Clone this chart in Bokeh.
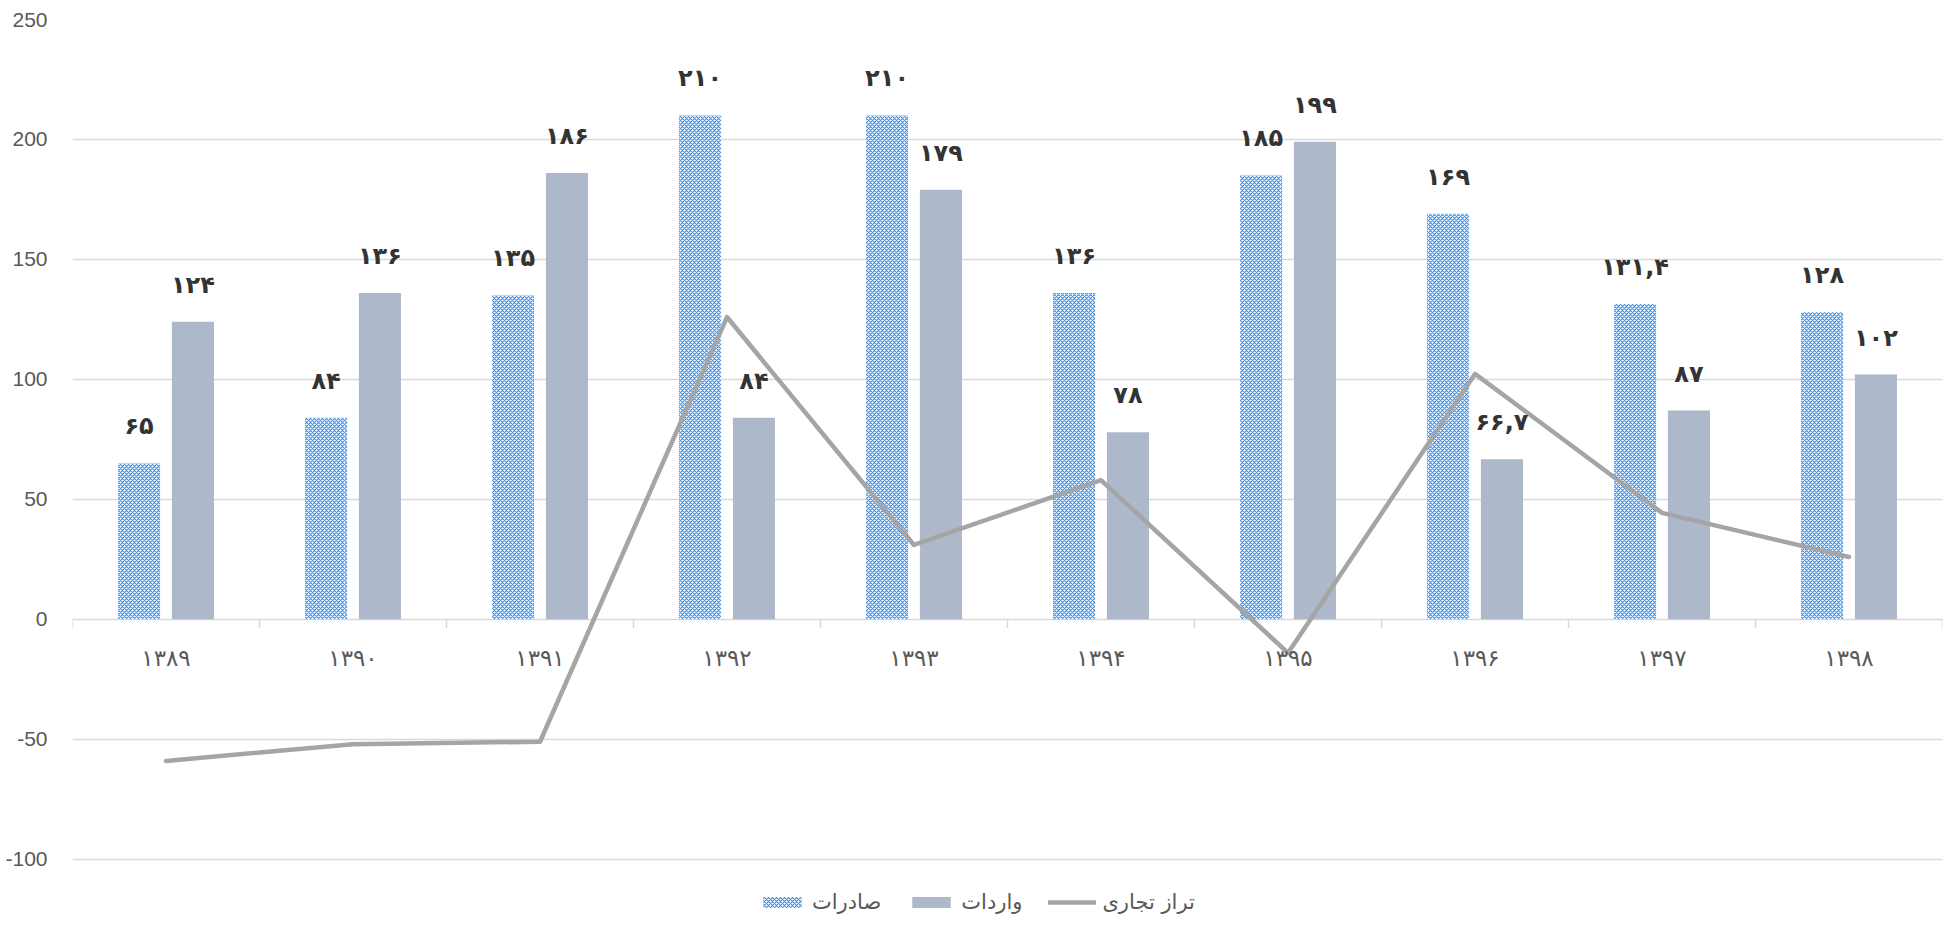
from bokeh.plotting import figure
from bokeh.models import ColumnDataSource, FactorRange, Range1d, FixedTicker, Legend, LegendItem
from bokeh.transform import dodge
from bokeh.core.properties import value
from bokeh.embed import file_html
from bokeh.resources import INLINE

# ---------------- data ----------------
years = ["۱۳۸۹", "۱۳۹۰", "۱۳۹۱", "۱۳۹۲", "۱۳۹۳", "۱۳۹۴", "۱۳۹۵", "۱۳۹۶", "۱۳۹۷", "۱۳۹۸"]
exports = [65, 84, 135, 210, 210, 136, 185, 169, 131.4, 128]
imports = [124, 136, 186, 84, 179, 78, 199, 66.7, 87, 102]
balance = [-59, -52, -51, 126, 31, 58, -14, 102.3, 44.4, 26]
exports_labels = ["۶۵", "۸۴", "۱۳۵", "۲۱۰", "۲۱۰", "۱۳۶", "۱۸۵", "۱۶۹", "۱۳۱,۴", "۱۲۸"]
imports_labels = ["۱۲۴", "۱۳۶", "۱۸۶", "۸۴", "۱۷۹", "۷۸", "۱۹۹", "۶۶,۷", "۸۷", "۱۰۲"]
y_ticks = [-100, -50, 0, 50, 100, 150, 200, 250]
series_names = ["صادرات", "واردات", "تراز تجاری"]

# ---------------- styles ----------------
GRID = "#d9d9d9"
TXT = "#595959"
LBL = "#333333"
FA_FONT = value("DejaVu Sans")
OFF = 0.144
BAR_W = 0.225
Y_LOW = -123   # extra room under the -100 grid line for the legend

src = ColumnDataSource(dict(year=years, exports=exports, imports=imports, balance=balance,
                            el=exports_labels, il=imports_labels))

p = figure(x_range=FactorRange(*years), y_range=Range1d(Y_LOW, y_ticks[-1]),
           width=1944, height=919, output_backend="svg", toolbar_location=None,
           min_border_left=72, min_border_right=2, min_border_top=19, min_border_bottom=5)
p.outline_line_color = None
p.background_fill_color = "white"
p.border_fill_color = "white"

p.xaxis.visible = False
p.xgrid.visible = False
p.ygrid.grid_line_color = GRID
p.ygrid.grid_line_width = 1.5

p.yaxis.ticker = FixedTicker(ticks=y_ticks)
p.yaxis.major_label_overrides = {t: str(t) for t in y_ticks}
p.yaxis.axis_line_color = None
p.yaxis.major_tick_line_color = None
p.yaxis.minor_tick_line_color = None
p.yaxis.major_tick_out = 0
p.yaxis.major_tick_in = 0
p.yaxis.minor_tick_out = 0
p.yaxis.major_label_standoff = 25
p.yaxis.major_label_text_font = "Liberation Sans"
p.yaxis.major_label_text_font_size = "21px"
p.yaxis.major_label_text_color = TXT

# category boundary ticks on the zero axis
bounds = list(range(len(years) + 1))
p.segment(x0=bounds, y0=[0] * len(bounds), x1=bounds, y1=[-3.6] * len(bounds),
          line_color=GRID, line_width=1.5)

r_exp = p.vbar(x=dodge("year", -OFF, range=p.x_range), top="exports", bottom=0, width=BAR_W,
               source=src, fill_color="white", line_color=None,
               hatch_pattern="diagonal_cross", hatch_color="#4a90d9",
               hatch_scale=4, hatch_weight=1.2)
r_imp = p.vbar(x=dodge("year", OFF, range=p.x_range), top="imports", bottom=0, width=BAR_W,
               source=src, fill_color="#adb9ca", line_color=None)
r_bal = p.line(x="year", y="balance", source=src, line_color="#a5a5a5", line_width=4.5,
               line_join="round", line_cap="round")

lbl_kw = dict(text_align="center", text_baseline="middle", y_offset=-37,
              text_font=FA_FONT, text_font_style="bold", text_font_size="24px",
              text_color=LBL, source=src)
p.text(x=dodge("year", -OFF, range=p.x_range), y="exports", text="el", **lbl_kw)
p.text(x=dodge("year", OFF, range=p.x_range), y="imports", text="il", **lbl_kw)

# category labels under the zero line
p.text(x="year", y=0, text="year", source=src, y_offset=39, text_align="center",
       text_baseline="middle", text_font=FA_FONT, text_font_size="23px", text_color=TXT)

legend = Legend(items=[LegendItem(label=series_names[0], renderers=[r_exp]),
                       LegendItem(label=series_names[1], renderers=[r_imp]),
                       LegendItem(label=series_names[2], renderers=[r_bal])],
                orientation="horizontal", location=(686, 0),
                border_line_color=None, background_fill_alpha=0,
                padding=0, margin=0, spacing=26, glyph_width=48, glyph_height=14,
                label_standoff=6, label_height=22,
                label_text_font="DejaVu Sans", label_text_font_size="21px",
                label_text_color=TXT)
p.add_layout(legend)

open("out.html", "w").write(file_html(p, INLINE))
